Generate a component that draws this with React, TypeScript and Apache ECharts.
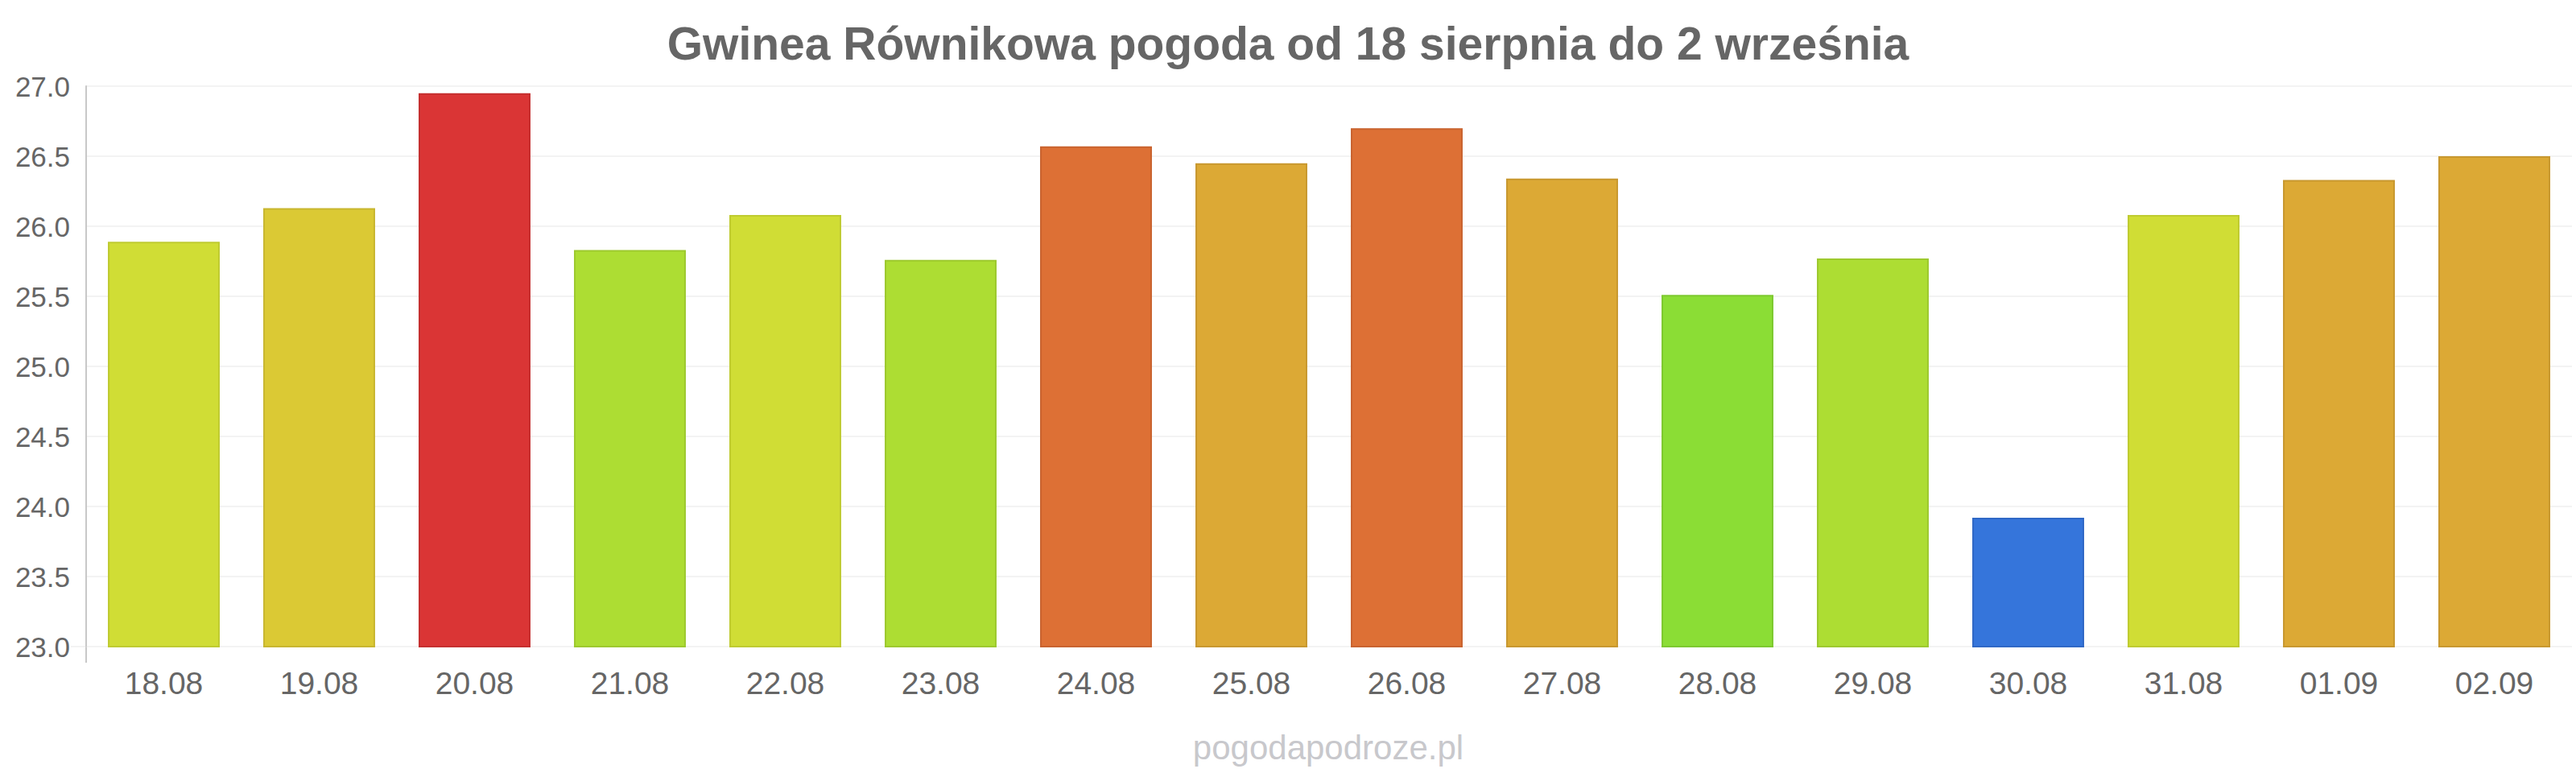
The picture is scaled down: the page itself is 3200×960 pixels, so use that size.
import React, { useEffect, useRef } from "react";
import * as echarts from "echarts";

const TITLE = "Gwinea Równikowa pogoda od 18 sierpnia do 2 września";
const WATERMARK = "pogodapodroze.pl";

const categories = [
  "18.08", "19.08", "20.08", "21.08", "22.08", "23.08", "24.08", "25.08",
  "26.08", "27.08", "28.08", "29.08", "30.08", "31.08", "01.09", "02.09",
];

const temperatures = [
  25.89, 26.13, 26.95, 25.83, 26.08, 25.76, 26.57, 26.45,
  26.7, 26.34, 25.51, 25.77, 23.92, 26.08, 26.33, 26.5,
];

const fillColors = [
  "#d0dd35", "#dbc934", "#da3535", "#addd33", "#d0dd35", "#addd33", "#dd7035", "#dca935",
  "#dd7035", "#dca935", "#8bdd35", "#addd33", "#3575db", "#d0dd35", "#dca935", "#dca935",
];

const borderColors = [
  "#bfcb30", "#c8b62f", "#c52f2f", "#9dc92e", "#bfcb30", "#9dc92e", "#c9632f", "#c8982f",
  "#c9632f", "#c8982f", "#7dc92f", "#9dc92e", "#2f68c6", "#bfcb30", "#c8982f", "#c8982f",
];

const yTicks = { min: 23, max: 27, interval: 0.5 };

export default function App() {
  const ref = useRef<HTMLDivElement>(null);

  useEffect(() => {
    document.body.style.margin = "0";
    if (!ref.current) return;
    const chart = echarts.init(ref.current, undefined, { renderer: "svg" });
    chart.setOption({
      animation: false,
      backgroundColor: "#ffffff",
      textStyle: { fontFamily: "'Liberation Sans', Arial, sans-serif" },
      title: {
        text: TITLE,
        left: "center",
        top: 25,
        padding: 0,
        textStyle: {
          fontSize: 57,
          fontWeight: "bold",
          color: "#666666",
          fontFamily: "'Liberation Sans', Arial, sans-serif",
        },
      },
      grid: { left: 107, right: 5, top: 107, bottom: 157, containLabel: false },
      xAxis: {
        type: "category",
        data: categories,
        axisLine: { show: false },
        axisTick: { show: false },
        axisLabel: {
          color: "#666666",
          fontSize: 39,
          margin: 26,
          fontFamily: "'Liberation Sans', Arial, sans-serif",
        },
      },
      yAxis: {
        type: "value",
        min: yTicks.min,
        max: yTicks.max,
        interval: yTicks.interval,
        axisLine: { show: true, lineStyle: { color: "#c8c8c8", width: 2 } },
        axisTick: { show: false },
        axisLabel: {
          color: "#666666",
          fontSize: 35,
          margin: 20,
          formatter: (v: number) => v.toFixed(1),
          fontFamily: "'Liberation Sans', Arial, sans-serif",
        },
        splitLine: { show: true, lineStyle: { color: "#f3f3f3", width: 2 } },
      },
      series: [
        {
          type: "bar",
          barCategoryGap: "28%",
          data: temperatures.map((v, i) => ({
            value: v,
            itemStyle: {
              color: fillColors[i],
              borderColor: borderColors[i],
              borderWidth: 2,
            },
          })),
        },
      ],
      graphic: [
        {
          type: "line",
          shape: { x1: 107, y1: 803, x2: 107, y2: 823 },
          style: { stroke: "#c8c8c8", lineWidth: 2 },
          silent: true,
        },
        {
          type: "line",
          shape: { x1: 88, y1: 803, x2: 107, y2: 803 },
          style: { stroke: "#f3f3f3", lineWidth: 2 },
          silent: true,
        },
        {
          type: "text",
          x: 1650,
          y: 928,
          style: {
            text: WATERMARK,
            fontSize: 42,
            fill: "#c8c8cc",
            align: "center",
            verticalAlign: "middle",
            fontFamily: "'Liberation Sans', Arial, sans-serif",
          },
          silent: true,
        },
      ],
    });
    return () => chart.dispose();
  }, []);

  return <div ref={ref} style={{ width: 3200, height: 960 }} />;
}
